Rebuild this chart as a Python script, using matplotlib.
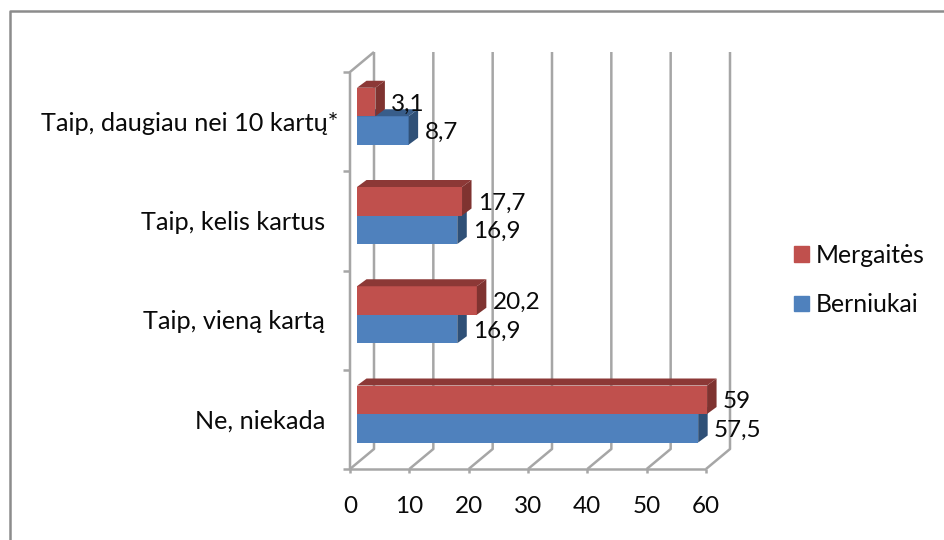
import matplotlib
matplotlib.use('Agg')
import matplotlib.pyplot as plt
from matplotlib.patches import Polygon, Rectangle

categories = ['Ne, niekada', 'Taip, vieną kartą', 'Taip, kelis kartus', 'Taip, daugiau nei 10 kartų*']
berniukai = [57.5, 16.9, 16.9, 8.7]
mergaites = [59, 20.2, 17.7, 3.1]
berniukai_labels = ['57,5', '16,9', '16,9', '8,7']
mergaites_labels = ['59', '20,2', '17,7', '3,1']
x_ticks = [0, 10, 20, 30, 40, 50, 60]

W, H = 944, 540
GRID = '#a6a6a6'
FONT = 'Lato'
FS = 17.5
FS_CAT = 18.2

plt.rcParams['font.family'] = [FONT, 'DejaVu Sans']

fig = plt.figure(figsize=(W / 100, H / 100), dpi=100)
# frame: only top and left edges are in the picture
fig.add_artist(plt.Line2D([9.5 / W, 9.5 / W, 1], [0, 1 - 11 / H, 1 - 11 / H], transform=fig.transFigure,
                          color='#8c8c8c', linewidth=1.8))

ax = fig.add_axes([350 / W, 1 - 469 / H, 356 / W, 397 / H])
ax.set_xlim(0, 60)
ax.set_ylim(-0.5, 3.5)
ax.patch.set_visible(False)
for s in ax.spines.values():
    s.set_visible(False)

px_x = 60 / 356
px_y = 4 / 397

# depth of the fake 3d box
wall_dx, wall_dy = 24 * px_x, 20 * px_y
bar_dx, bar_dy = 9.5 * px_x, 7 * px_y
bar_left = 7 * px_x
bar_h = 28.5 * px_y
base = -0.5 + 55 * px_y


def line(xs, ys):
    ax.plot(xs, ys, color=GRID, lw=1.8, clip_on=False, solid_capstyle='butt', zorder=1)


def draw_bar(value, y, front, dark, top, z):
    x1 = bar_left + value
    ax.barh(y, value, height=bar_h, left=bar_left, align='edge', color=front,
            edgecolor='none', zorder=z, clip_on=False)
    ax.add_patch(Polygon([(x1, y), (x1 + bar_dx, y + bar_dy), (x1 + bar_dx, y + bar_h + bar_dy), (x1, y + bar_h)],
                         facecolor=dark, edgecolor='none', zorder=z, clip_on=False))
    ax.add_patch(Polygon([(bar_left, y + bar_h), (bar_left + bar_dx, y + bar_h + bar_dy),
                          (x1 + bar_dx, y + bar_h + bar_dy), (x1, y + bar_h)],
                         facecolor=top, edgecolor='none', zorder=z, clip_on=False))


def label(txt, xy, dx, dy, ha='left', size=FS):
    ax.annotate(txt, xy, xytext=(dx, dy), textcoords='offset points', fontsize=size, va='center', ha=ha,
                color='#0a0a0a', zorder=20, annotation_clip=False)


for v in x_ticks:
    line([v, v + wall_dx, v + wall_dx], [-0.5, -0.5 + wall_dy, 3.5 + wall_dy])
    line([v, v], [-0.5, -0.5 - 4 * px_y])
    label(str(v), (v, -0.5), 0, -27, ha='center')
line([0, 60], [-0.5, -0.5])
line([0, 0, wall_dx], [-0.5, 3.5, 3.5 + wall_dy])
for i in range(5):
    line([-7 * px_x, 0], [i - 0.5, i - 0.5])

label_shift = [0, 0, 0, 9.5]
for i in range(len(categories)):
    yb = i + base - bar_h
    draw_bar(berniukai[i], yb, '#4f81bd', '#2f5077', '#385d8a', 2 + i * 2)
    draw_bar(mergaites[i], yb + bar_h, '#c0504d', '#7f3330', '#8c3836', 3 + i * 2)
    label(berniukai_labels[i], (bar_left + berniukai[i], yb + bar_h / 2), 11.5, -1.5)
    label(mergaites_labels[i], (bar_left + mergaites[i], yb + bar_h * 1.5), 11.5, -1.5)
    label(categories[i], (0, i + base), -18 + label_shift[i], -5, ha='right', size=FS_CAT)

ax.set_xticks([])
ax.set_yticks([])

handles = [Rectangle((0, 0), 1, 1, color='#c0504d'), Rectangle((0, 0), 1, 1, color='#4f81bd')]
fig.legend(handles, ['Mergaitės', 'Berniukai'], loc='center left', bbox_to_anchor=(794 / W, 1 - 280 / H),
           frameon=False, fontsize=17.8, handlelength=0.6, handleheight=0.6, handletextpad=0.3,
           labelspacing=1.07, labelcolor='#0a0a0a', borderpad=0, borderaxespad=0)

fig.savefig('out.png', dpi=100)
